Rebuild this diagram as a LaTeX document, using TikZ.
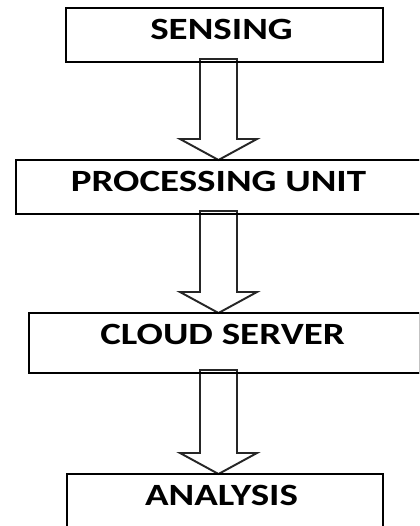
\documentclass[tikz,border=0pt]{standalone}
\usepackage{fontspec}
\newfontfamily\boxfont{Carlito}[FakeStretch=1.26]
\usetikzlibrary{calc}

\begin{document}
\begin{tikzpicture}[x=0.02cm, y=-0.02cm,
    box/.style={draw, line width=1.1pt, anchor=north west, inner sep=0pt, outer sep=0pt},
    lbl/.style={anchor=base, inner sep=0pt, font=\boxfont\bfseries\fontsize{17.6}{20}\selectfont},
    blk/.style={draw=black!85, line width=1.1pt, fill=white, line join=miter}]
    \useasboundingbox (0,0) rectangle (419,526);
    \clip (0,0) rectangle (419,526);
    \coordinate (axis) at (218.5,0);

    % boxes (only their outlines, drawn after the arrows)
    \path (66,8)    node[box, minimum width=6.34cm, minimum height=1.08cm] (sensing) {};
    \path (16,160)  node[box, minimum width=8.5cm,  minimum height=1.08cm] (proc) {};
    \path (29,313)  node[box, minimum width=7.83cm, minimum height=1.2cm] (cloud) {};
    \path (67,474)  node[box, minimum width=6.32cm, minimum height=1.3cm] (analysis) {};

    % block arrows
    \foreach \a/\b in {sensing/proc, proc/cloud, cloud/analysis}
        \draw[blk] ($(\a.south -| axis)+(-18.5,-3)$) -- ($(\b.north -| axis)+(-18.5,-21)$)
            -- ++(-20,0) -- (\b.north -| axis) -- ($(\b.north -| axis)+(38.5,-21)$)
            -- ++(-20,0) -- ($(\a.south -| axis)+(18.5,-3)$) -- cycle;

    % outlines again on top
    \foreach \n in {sensing, proc, cloud, analysis}
        \draw[line width=1.1pt] (\n.north west) rectangle (\n.south east);

    % labels
    \node[lbl] (t1) at ($(sensing.north -| axis)+(3,32)$) {SENSING};
    \node[lbl] (t2) at ($(proc.north -| axis)+(0,32)$) {PROCESSING UNIT};
    \node[lbl] (t3) at ($(cloud.north -| axis)+(4,31)$) {CLOUD SERVER};
    \node[lbl] (t4) at ($(analysis.north -| axis)+(3,31)$) {ANALYSIS};
\end{tikzpicture}
\end{document}
